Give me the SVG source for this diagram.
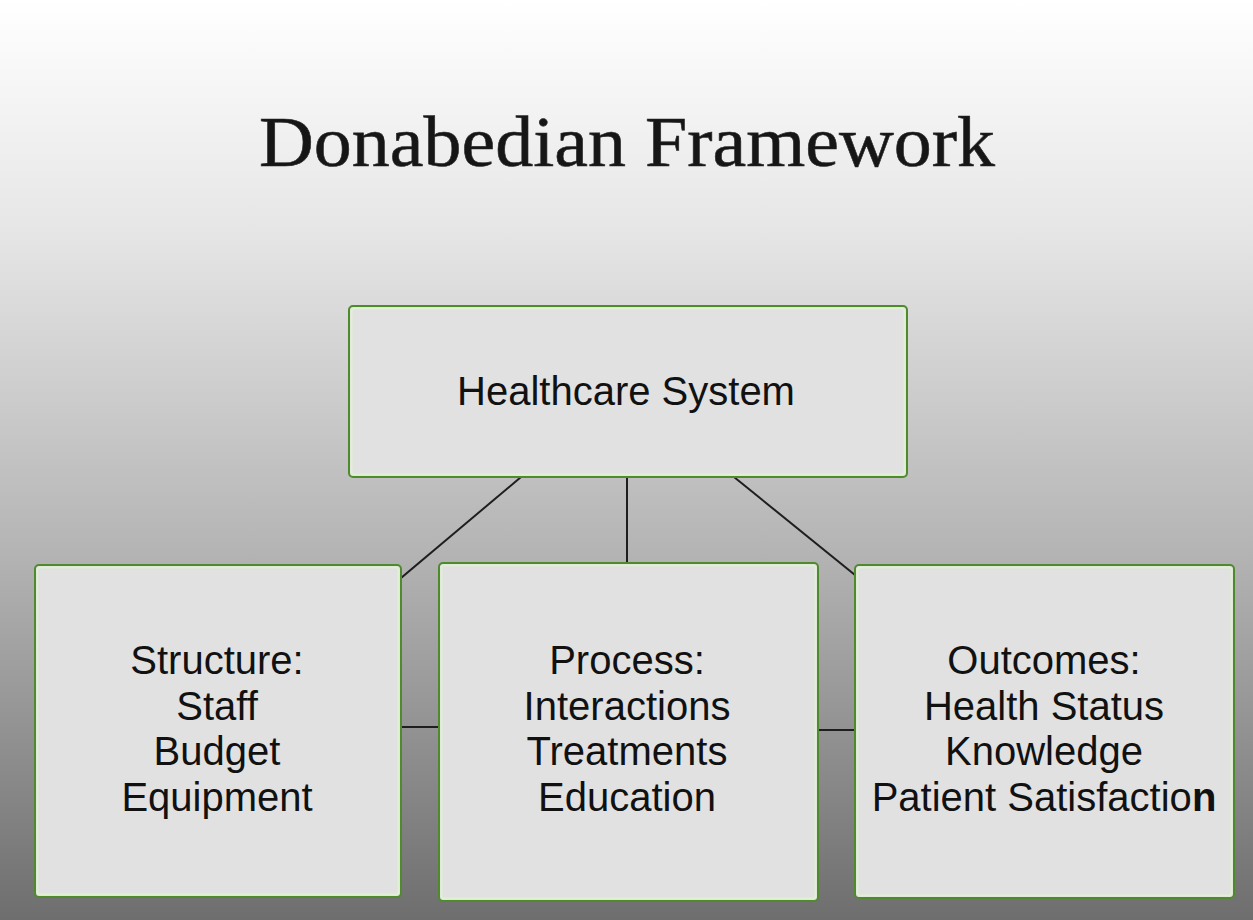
<svg xmlns="http://www.w3.org/2000/svg" width="1253" height="920" viewBox="0 0 1253 920">
  <defs>
    <linearGradient id="bg" x1="0" y1="0" x2="0" y2="1">
      <stop offset="0" stop-color="#ffffff"/>
      <stop offset="0.25" stop-color="#e6e6e6"/>
      <stop offset="0.6" stop-color="#b4b4b4"/>
      <stop offset="1" stop-color="#6e6e6e"/>
    </linearGradient>
  </defs>
  <style>
    .box { fill: #e1e1e1; stroke: #4f8a2f; stroke-width: 2; }
    .inner { fill: none; stroke: #dff0d4; stroke-width: 2; }
    .label { font-family: "Liberation Sans", Arial, sans-serif; font-size: 40px; fill: #111111; text-anchor: middle; }
    .title { font-family: "Liberation Serif", "Times New Roman", serif; font-size: 71px; fill: #161616; stroke: #2a2a2a; stroke-width: 0.6; }
    .conn line { stroke: #1e1e1e; stroke-width: 2; }
  </style>

  <rect x="0" y="0" width="1253" height="920" fill="url(#bg)"/>

  <text class="title" x="259" y="166" textLength="736" lengthAdjust="spacingAndGlyphs">Donabedian Framework</text>

  <g id="connectors" class="conn">
    <line x1="521" y1="477" x2="401" y2="578"/>
    <line x1="627" y1="477" x2="627" y2="563"/>
    <line x1="734" y1="477" x2="855" y2="575"/>
    <line x1="401" y1="727" x2="439" y2="727"/>
    <line x1="818" y1="730" x2="855" y2="730"/>
  </g>

  <g id="healthcare-system">
    <rect class="box" x="349" y="306" width="558" height="171" rx="4"/>
    <rect class="inner" x="351.5" y="308.5" width="553" height="166" rx="3"/>
    <text class="label" x="626" y="405" font-size="41">Healthcare System</text>
  </g>

  <g id="structure">
    <rect class="box" x="35" y="565" width="366" height="332" rx="4"/>
    <rect class="inner" x="37.5" y="567.5" width="361" height="327" rx="3"/>
    <text class="label" x="217" y="674">Structure:</text>
    <text class="label" x="217" y="719.5">Staff</text>
    <text class="label" x="217" y="765">Budget</text>
    <text class="label" x="217" y="810.5">Equipment</text>
  </g>

  <g id="process">
    <rect class="box" x="439" y="563" width="379" height="338" rx="4"/>
    <rect class="inner" x="441.5" y="565.5" width="374" height="333" rx="3"/>
    <text class="label" x="627" y="674">Process:</text>
    <text class="label" x="627" y="719.5">Interactions</text>
    <text class="label" x="627" y="765">Treatments</text>
    <text class="label" x="627" y="810.5">Education</text>
  </g>

  <g id="outcomes">
    <rect class="box" x="855" y="565" width="379" height="333" rx="4"/>
    <rect class="inner" x="857.5" y="567.5" width="374" height="328" rx="3"/>
    <text class="label" x="1044" y="674">Outcomes:</text>
    <text class="label" x="1044" y="719.5">Health Status</text>
    <text class="label" x="1044" y="765">Knowledge</text>
    <text class="label" x="1044" y="810.5">Patient Satisfactio<tspan font-weight="bold">n</tspan></text>
  </g>
</svg>
